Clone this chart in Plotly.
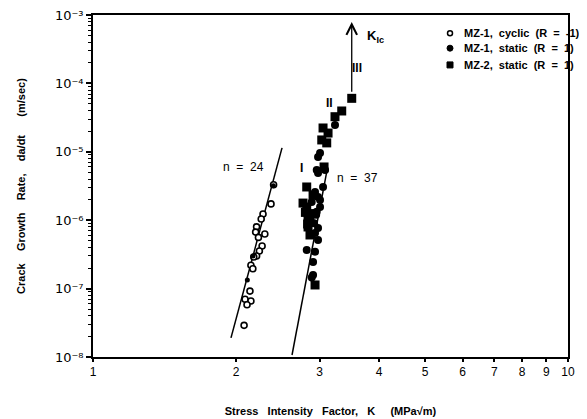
import math
import plotly.graph_objects as go

# ---- data ----
cyc_K = [2.37, 2.28, 2.26, 2.21, 2.20, 2.30, 2.23, 2.27, 2.24, 2.21, 2.18, 2.15, 2.17,
         2.14, 2.09, 2.15, 2.11, 2.08, 2.40]
cyc_rate = [1.73e-6, 1.23e-6, 1.04e-6, 8.0e-7, 6.7e-7, 6.3e-7, 5.6e-7, 4.2e-7, 3.55e-7, 3.0e-7,
            2.9e-7, 2.2e-7, 1.95e-7, 9.2e-8, 7.0e-8, 6.6e-8, 5.8e-8, 2.9e-8, 3.3e-6]

mz1_K = [3.232, 3.006, 2.977, 2.958, 2.977, 3.05, 2.934, 2.977, 2.887, 3.006, 3.006, 2.958,
         2.977, 2.977, 2.818, 2.934, 2.906, 2.906, 2.887, 3.08, 2.934, 2.95, 2.92]
mz1_rate = [2.47e-5, 9.6e-6, 8.4e-6, 5.42e-6, 4.9e-6, 3.06e-6, 2.58e-6, 2.18e-6, 1.85e-6,
            1.97e-6, 1.56e-6, 1.33e-6, 7.7e-7, 5.14e-7, 3.67e-7, 3.47e-7, 2.45e-7, 1.58e-7,
            1.45e-7, 5.42e-6, 6.5e-7, 1.2e-6, 9.0e-7]

mz1_line_K = [2.397, 2.172, 2.113]
mz1_line_rate = [3.2e-6, 3.0e-7, 1.34e-7]

mz2_K = [3.505, 3.339, 3.232, 3.05, 3.125, 3.031, 3.105, 3.065, 2.818, 2.906, 2.768, 2.818,
         2.863, 2.836, 2.836, 2.863, 2.934, 2.85, 2.80, 2.87, 2.83]
mz2_rate = [6.05e-5, 3.95e-5, 3.26e-5, 2.23e-5, 1.88e-5, 1.49e-5, 1.35e-5, 6.0e-6, 3.06e-6,
            2.33e-6, 1.78e-6, 1.56e-6, 1.11e-6, 1.08e-6, 7.96e-7, 6.08e-7, 1.13e-7, 9.5e-7,
            1.3e-6, 1.25e-6, 8.8e-7]

fit24_K = [1.952, 2.50]
fit24_rate = [1.9e-8, 1.14e-5]
fit37_K = [2.624, 3.11]
fit37_rate = [1.07e-8, 5.4e-6]

NB = "\u00a0"
series_names = ["MZ-1,  cyclic  (R  =  -1)", "MZ-1,  static  (R  =  1)", "MZ-2,  static  (R  =  1)"]

x_ticks = [1, 2, 3, 4, 5, 6, 7, 8, 9, 10]
y_ticks = [1e-8, 1e-7, 1e-6, 1e-5, 1e-4, 1e-3]
y_ticktext = ["10⁻⁸", "10⁻⁷", "10⁻⁶", "10⁻⁵", "10⁻⁴", "10⁻³"]

FONT = "Liberation Sans, Arial, sans-serif"

fig = go.Figure()
fig.add_trace(go.Scatter(x=fit24_K, y=fit24_rate, mode="lines",
                         line=dict(color="black", width=1.5), showlegend=False, hoverinfo="skip"))
fig.add_trace(go.Scatter(x=fit37_K, y=fit37_rate, mode="lines",
                         line=dict(color="black", width=1.5), showlegend=False, hoverinfo="skip"))
fig.add_trace(go.Scatter(x=cyc_K, y=cyc_rate, mode="markers", name=series_names[0],
                         showlegend=False,
                         marker=dict(symbol="circle", size=6, color="white",
                                     line=dict(color="black", width=1.6))))
fig.add_trace(go.Scatter(x=mz1_K, y=mz1_rate, mode="markers", name=series_names[1],
                         showlegend=False,
                         marker=dict(symbol="circle", size=8, color="black")))
fig.add_trace(go.Scatter(x=mz2_K, y=mz2_rate, mode="markers", name=series_names[2],
                         showlegend=False,
                         marker=dict(symbol="square", size=9, color="black")))
fig.add_trace(go.Scatter(x=mz1_line_K, y=mz1_line_rate, mode="markers", showlegend=False,
                         marker=dict(symbol="circle", size=5, color="black")))

minor_y = [k * 10.0 ** e for e in range(-8, -3) for k in range(2, 10)]

fig.update_xaxes(type="log", range=[0, 1], tickvals=x_ticks, ticktext=[str(v) for v in x_ticks],
                 ticks="outside", ticklen=3, tickwidth=1.5, tickcolor="black",
                 showline=True, linecolor="black", linewidth=1.8, mirror=True,
                 showgrid=False, zeroline=False, automargin=False, ticklabeloverflow="allow",
                 tickfont=dict(family=FONT, size=12, color="black"),
                 title=dict(text=("<b>Stress" + NB*3 + "Intensity" + NB*3 + "Factor," + NB*3 + "K"
                                  + NB*5 + "(MPa√m)</b>"),
                            font=dict(family=FONT, size=11, color="black"), standoff=29))
fig.update_yaxes(type="log", range=[-8, -3], tickvals=y_ticks, ticktext=y_ticktext,
                 ticks="outside", ticklen=5, tickwidth=1.5, tickcolor="black",
                 minor=dict(tickvals=minor_y, ticks="outside", ticklen=3, tickcolor="black",
                            tickwidth=1, showgrid=False),
                 showline=True, linecolor="black", linewidth=1.8, mirror=True,
                 showgrid=False, zeroline=False, automargin=False, ticklabeloverflow="allow",
                 tickfont=dict(family="DejaVu Sans, Liberation Sans, sans-serif", size=13,
                               color="black"),
                 title=dict(text=("<b>Crack" + NB*4 + "Growth" + NB*4 + "Rate," + NB*4 + "da/dt"
                                  + NB*6 + "(m/sec)</b>"),
                            font=dict(family=FONT, size=11, color="black"), standoff=27))

ann_font = dict(family=FONT, size=12, color="black")
L = math.log10
fig.add_annotation(x=L(2.07), y=L(6.0e-6), text="n" + NB*2 + "=" + NB*2 + "24",
                   showarrow=False, font=ann_font)
fig.add_annotation(x=L(2.741), y=L(5.8e-6), text="<b>I</b>", showarrow=False, font=ann_font)
fig.add_annotation(x=L(3.232), y=L(4.14e-6), text="n" + NB*2 + "=" + NB*2 + "37",
                   showarrow=False, font=ann_font, xanchor="left")
fig.add_annotation(x=L(3.14), y=L(5.2e-5), text="<b>II</b>", showarrow=False, font=ann_font)
fig.add_annotation(x=L(3.595), y=L(1.68e-4), text="<b>III</b>", showarrow=False, font=ann_font)
fig.add_annotation(x=L(3.74), y=L(4.8e-4), text="<b>K<sub>Ic</sub></b>", showarrow=False,
                   font=dict(family=FONT, size=13, color="black"), xanchor="left")
fig.add_annotation(x=L(3.505), y=L(7.9e-4), ax=L(3.505), ay=L(7.2e-5), axref="x", ayref="y",
                   text="", showarrow=True, arrowhead=5, arrowsize=1.6, arrowwidth=1.3,
                   arrowcolor="black")

# ---- legend drawn in paper coordinates (keeps the plot area fixed) ----
leg_y = [0.947, 0.903, 0.854]
leg_sym_x = 0.7516
leg_txt_x = 0.776
for i, name in enumerate(series_names):
    fig.add_annotation(xref="paper", yref="paper", x=leg_txt_x, y=leg_y[i],
                       text="<b>" + name.replace(" ", NB) + "</b>",
                       showarrow=False, xanchor="left", yanchor="middle",
                       font=dict(family=FONT, size=11, color="black"))
fig.add_shape(type="circle", xref="paper", yref="paper", xsizemode="pixel", ysizemode="pixel",
              xanchor=leg_sym_x, yanchor=leg_y[0], x0=-2.5, x1=2.5, y0=-2.5, y1=2.5,
              line=dict(color="black", width=1.5), fillcolor="white")
fig.add_shape(type="circle", xref="paper", yref="paper", xsizemode="pixel", ysizemode="pixel",
              xanchor=leg_sym_x, yanchor=leg_y[1], x0=-3, x1=3, y0=-3, y1=3,
              line=dict(color="black", width=1), fillcolor="black")
fig.add_shape(type="rect", xref="paper", yref="paper", xsizemode="pixel", ysizemode="pixel",
              xanchor=leg_sym_x, yanchor=leg_y[2], x0=-3, x1=3, y0=-3, y1=3,
              line=dict(color="black", width=1), fillcolor="black")

# the page body adds an 8px offset; size the figure so the plot area lands where the reference's does
fig.update_layout(
    width=579, height=411,
    margin=dict(l=85, r=19, t=7, b=62),
    paper_bgcolor="white", plot_bgcolor="white",
    font=dict(family=FONT, color="black"),
    showlegend=False,
)

fig.write_html("out.html")
